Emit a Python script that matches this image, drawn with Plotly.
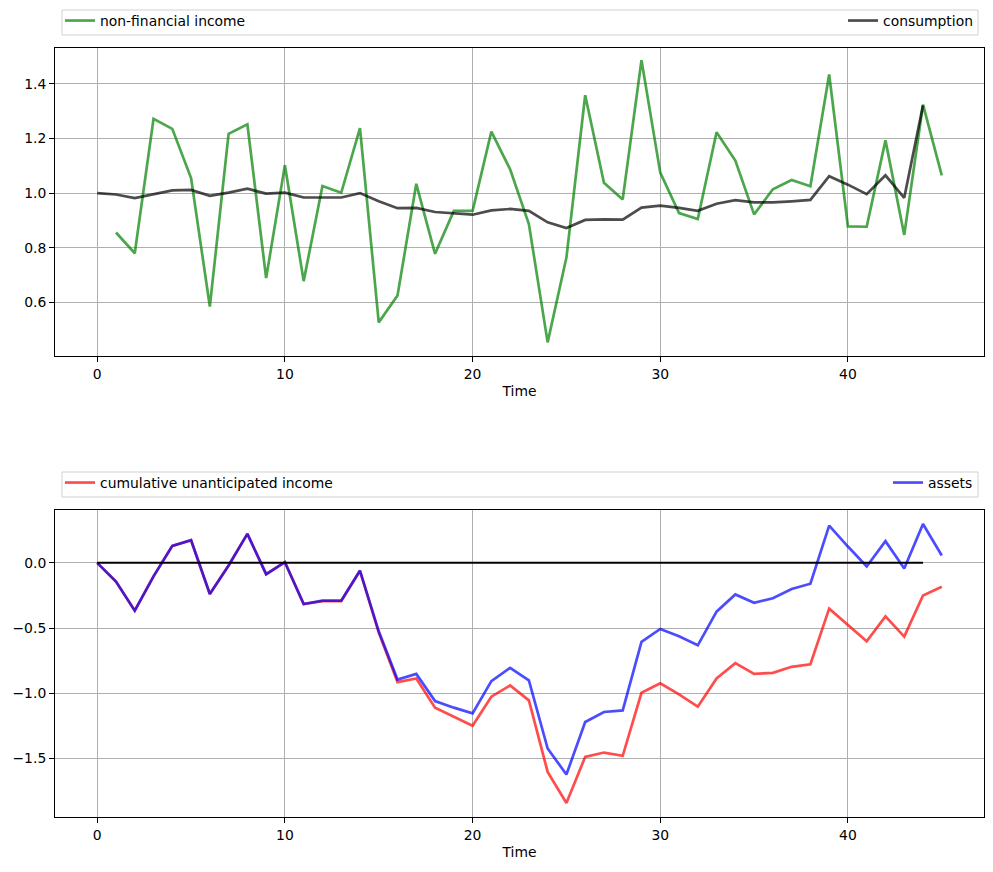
import plotly.graph_objects as go

# ---------------- data ----------------
time_income = list(range(1, 46))
non_financial_income = [
    0.856, 0.780, 1.272, 1.235, 1.055, 0.585, 1.217, 1.252, 0.689, 1.102,
    0.678, 1.026, 1.001, 1.238, 0.527, 0.625, 1.034, 0.778, 0.935, 0.935,
    1.225, 1.087, 0.887, 0.454, 0.764, 1.358, 1.038, 0.977, 1.486, 1.075,
    0.927, 0.905, 1.223, 1.119, 0.922, 1.014, 1.048, 1.025, 1.434, 0.878,
    0.877, 1.193, 0.847, 1.324, 1.065,
]
time_consumption = list(range(0, 45))
consumption = [
    1.000, 0.995, 0.982, 0.996, 1.010, 1.012, 0.990, 1.002, 1.016, 0.998,
    1.002, 0.984, 0.984, 0.984, 1.000, 0.970, 0.945, 0.946, 0.931, 0.926,
    0.921, 0.937, 0.942, 0.935, 0.893, 0.872, 0.902, 0.904, 0.903, 0.947,
    0.954, 0.946, 0.935, 0.961, 0.974, 0.966, 0.966, 0.970, 0.975, 1.062,
    1.031, 0.996, 1.065, 0.983, 1.321,
]
time_assets = list(range(0, 46))
cumulative_unanticipated_income = [
    0.000, -0.143, -0.367, -0.104, 0.130, 0.173, -0.239, -0.020, 0.222, -0.087,
    0.005, -0.316, -0.293, -0.293, -0.062, -0.535, -0.914, -0.886, -1.110, -1.179,
    -1.248, -1.026, -0.940, -1.054, -1.602, -1.841, -1.487, -1.454, -1.479, -0.996,
    -0.924, -1.008, -1.103, -0.886, -0.769, -0.851, -0.843, -0.797, -0.777, -0.351,
    -0.474, -0.601, -0.410, -0.565, -0.250, -0.183,
]
assets = [
    0.000, -0.143, -0.367, -0.104, 0.130, 0.173, -0.239, -0.020, 0.222, -0.087,
    0.005, -0.316, -0.290, -0.290, -0.059, -0.525, -0.894, -0.851, -1.059, -1.110,
    -1.154, -0.907, -0.805, -0.901, -1.423, -1.622, -1.220, -1.143, -1.131, -0.606,
    -0.507, -0.563, -0.632, -0.374, -0.242, -0.306, -0.272, -0.201, -0.160, 0.285,
    0.125, -0.028, 0.166, -0.043, 0.298, 0.056,
]
zero_time = [0, 44]
zero_level = [0, 0]

x_ticks = [0, 10, 20, 30, 40]
top_y_ticks = [0.6, 0.8, 1.0, 1.2, 1.4]
bottom_y_ticks = [-1.5, -1.0, -0.5, 0.0]

# ---------------- figure ----------------
W, H = 993, 872
FONT = "DejaVu Sans"
FS = 13.9

fig = go.Figure()

fig.add_trace(go.Scatter(x=time_income, y=non_financial_income, mode="lines",
                         name="non-financial income",
                         line=dict(color="rgba(0,128,0,0.7)", width=2.7),
                         xaxis="x", yaxis="y", legend="legend"))
fig.add_trace(go.Scatter(x=time_consumption, y=consumption, mode="lines",
                         name="consumption",
                         line=dict(color="rgba(0,0,0,0.7)", width=2.7),
                         xaxis="x", yaxis="y", legend="legend2"))
fig.add_trace(go.Scatter(x=time_assets, y=cumulative_unanticipated_income, mode="lines",
                         name="cumulative unanticipated income",
                         line=dict(color="rgba(255,0,0,0.7)", width=2.7),
                         xaxis="x2", yaxis="y2", legend="legend3"))
fig.add_trace(go.Scatter(x=time_assets, y=assets, mode="lines",
                         name="assets",
                         line=dict(color="rgba(0,0,255,0.7)", width=2.7),
                         xaxis="x2", yaxis="y2", legend="legend4"))
fig.add_trace(go.Scatter(x=zero_time, y=zero_level, mode="lines",
                         line=dict(color="black", width=2),
                         showlegend=False, xaxis="x2", yaxis="y2"))

def px_x(p):
    return p / W

def px_y(p):
    return 1 - p / H

axis_common = dict(
    showline=True, linecolor="black", linewidth=1, mirror=True,
    ticks="outside", ticklen=5, tickwidth=1, tickcolor="black",
    showgrid=True, gridcolor="#b0b0b0", gridwidth=1,
    zeroline=False, automargin=False,
    tickfont=dict(family=FONT, size=FS, color="black"),
)

x_range = [-2.25, 47.25]
fig.update_layout(
    width=W, height=H,
    margin=dict(l=0, r=0, t=0, b=0),
    paper_bgcolor="white", plot_bgcolor="white",
    font=dict(family=FONT, size=FS, color="black"),
    xaxis=dict(axis_common, domain=[px_x(55), px_x(984)], range=x_range,
               tickvals=x_ticks, anchor="y",
               title=dict(text="Time", font=dict(family=FONT, size=FS), standoff=5)),
    yaxis=dict(axis_common, domain=[px_y(356), px_y(48)], range=[0.404, 1.531],
               tickvals=top_y_ticks, tickformat=".1f", anchor="x"),
    xaxis2=dict(axis_common, domain=[px_x(55), px_x(984)], range=x_range,
                tickvals=x_ticks, anchor="y2",
                title=dict(text="Time", font=dict(family=FONT, size=FS), standoff=5)),
    yaxis2=dict(axis_common, domain=[px_y(817), px_y(510)], range=[-1.948, 0.405],
                tickvals=bottom_y_ticks, tickformat=".1f", anchor="x2"),
)

legend_common = dict(bgcolor="rgba(0,0,0,0)", borderwidth=0,
                     font=dict(family=FONT, size=FS, color="black"),
                     yanchor="middle", orientation="h")
fig.update_layout(
    legend=dict(legend_common, x=px_x(60), xanchor="left", y=px_y(21)),
    legend2=dict(legend_common, x=px_x(978), xanchor="right", y=px_y(21)),
    legend3=dict(legend_common, x=px_x(60), xanchor="left", y=px_y(483)),
    legend4=dict(legend_common, x=px_x(978), xanchor="right", y=px_y(483)),
)

# legend frames
for top, bottom in [(10, 35), (472, 497)]:
    fig.add_shape(type="rect", xref="paper", yref="paper",
                  x0=px_x(62), x1=px_x(978), y0=px_y(bottom), y1=px_y(top),
                  line=dict(color="rgba(204,204,204,0.9)", width=1),
                  fillcolor="rgba(255,255,255,0.8)", layer="below")

fig.write_html("out.html")
